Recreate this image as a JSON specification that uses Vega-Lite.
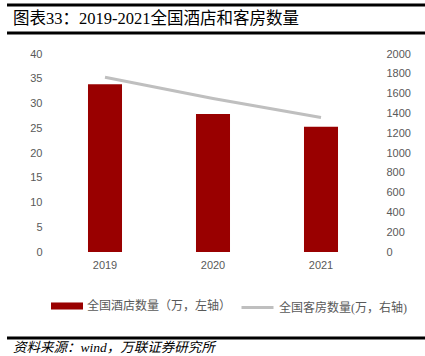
{
  "$schema": "https://vega.github.io/schema/vega-lite/v6.json",
  "padding": {"left": 5, "top": 3, "right": 0, "bottom": 0},
  "spacing": 13,
  "resolve": {"scale": {"fill": "independent", "stroke": "independent"}, "legend": {"fill": "independent", "stroke": "independent"}},
  "config": {
    "view": {"stroke": null},
    "axis": {"labelFont": "Liberation Sans", "labelFontSize": 11, "labelColor": "#595959", "domain": false, "ticks": false, "grid": false, "title": null},
    "legend": {"labelFont": "Liberation Serif, Noto Sans CJK SC", "labelFontSize": 12, "labelColor": "#595959"}
  },
  "vconcat": [
    {
      "width": 376,
      "height": 28,
      "data": {"values": [{"t": "图表33：2019-2021全国酒店和客房数量", "start": -0.117, "end": 1}]},
      "layer": [
        {"mark": {"type": "rule", "strokeWidth": 3, "color": "#000000"}, "encoding": {"x": {"field": "start", "type": "quantitative", "scale": {"domain": [0, 1]}, "axis": null}, "x2": {"field": "end"}, "y": {"datum": 1, "type": "quantitative", "scale": {"domain": [0, 1]}, "axis": null}}},
        {"mark": {"type": "rule", "strokeWidth": 3, "color": "#000000"}, "encoding": {"x": {"field": "start", "type": "quantitative", "scale": {"domain": [0, 1]}, "axis": null}, "x2": {"field": "end"}, "y": {"datum": 0, "type": "quantitative", "scale": {"domain": [0, 1]}, "axis": null}}},
        {"mark": {"type": "text", "align": "left", "baseline": "middle", "font": "Liberation Serif, Noto Sans CJK SC", "fontSize": 16.5, "color": "#000000", "dx": 6}, "encoding": {"text": {"field": "t"}, "x": {"field": "start", "type": "quantitative", "scale": {"domain": [0, 1]}, "axis": null}, "y": {"datum": 0.5, "type": "quantitative", "scale": {"domain": [0, 1]}, "axis": null}}}
      ]
    },
    {
      "spacing": 22,
      "resolve": {"scale": {"fill": "independent", "stroke": "independent"}, "legend": {"fill": "independent", "stroke": "independent"}},
      "vconcat": [
        {
          "width": 324,
          "height": 198,
          "data": {"values": [
            {"year": "2019", "hotels": 33.9, "rooms": 1765},
            {"year": "2020", "hotels": 27.9, "rooms": 1550},
            {"year": "2021", "hotels": 25.3, "rooms": 1358}
          ]},
          "encoding": {"x": {"field": "year", "type": "ordinal", "scale": {"paddingInner": 0.685, "paddingOuter": 0.3425}, "axis": {"labelAngle": 0, "labelPadding": 7}}},
          "layer": [
            {
              "mark": {"type": "bar", "color": "#990000"},
              "encoding": {
                "y": {"field": "hotels", "type": "quantitative", "scale": {"domain": [0, 40]}, "axis": {"orient": "left", "values": [0, 5, 10, 15, 20, 25, 30, 35, 40], "labelPadding": 9, "minExtent": 44}},
                "fill": {"datum": "全国酒店数量（万，左轴）", "scale": {"range": ["#990000"]}, "legend": {"title": null, "orient": "bottom", "symbolType": "M-1,-0.22H1V0.22H-1Z", "symbolSize": 1024, "symbolStrokeWidth": 0, "labelOffset": 4, "offset": 20}}
              }
            },
            {
              "mark": {"type": "line", "strokeWidth": 3, "color": "#BFBFBF"},
              "encoding": {
                "y": {"field": "rooms", "type": "quantitative", "scale": {"domain": [0, 2000]}, "axis": {"orient": "right", "format": "d", "values": [0, 200, 400, 600, 800, 1000, 1200, 1400, 1600, 1800, 2000], "labelPadding": 11}},
                "stroke": {"datum": "全国客房数量(万，右轴)", "scale": {"range": ["#BFBFBF"]}, "legend": {"title": null, "orient": "bottom", "symbolType": "stroke", "symbolSize": 1024, "symbolStrokeWidth": 3, "labelOffset": 4, "offset": 20}}
              }
            }
          ],
          "resolve": {"scale": {"y": "independent"}}
        },
        {
          "width": 376,
          "height": 10,
          "data": {"values": [{"t": "资料来源：wind，万联证券研究所", "start": -0.117, "end": 1}]},
          "layer": [
            {"mark": {"type": "rule", "strokeWidth": 3, "color": "#000000"}, "encoding": {"x": {"field": "start", "type": "quantitative", "scale": {"domain": [0, 1]}, "axis": null}, "x2": {"field": "end"}, "y": {"datum": 1, "type": "quantitative", "scale": {"domain": [0, 1]}, "axis": null}}},
            {"mark": {"type": "text", "align": "left", "baseline": "middle", "font": "Liberation Serif, Noto Sans CJK SC", "fontSize": 13.5, "fontStyle": "italic", "color": "#000000", "dx": 6}, "encoding": {"text": {"field": "t"}, "x": {"field": "start", "type": "quantitative", "scale": {"domain": [0, 1]}, "axis": null}, "y": {"datum": 0, "type": "quantitative", "scale": {"domain": [0, 1]}, "axis": null}}}
          ]
        }
      ]
    }
  ]
}
